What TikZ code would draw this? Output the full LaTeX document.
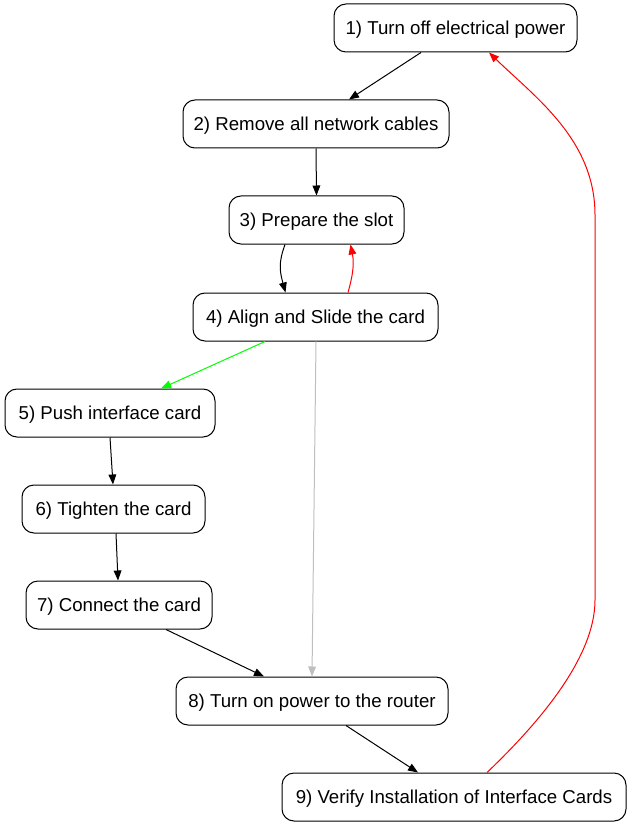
\documentclass[tikz,border=0pt]{standalone}
\usepackage{fontspec}
\setmainfont{Liberation Sans}
\usetikzlibrary{arrows.meta,calc}
\begin{document}
\begin{tikzpicture}[x=0.75pt,y=-0.75pt,
  box/.style={draw,line width=0.75pt,rounded corners=9pt,inner sep=0pt,font=\fontsize{14pt}{16pt}\selectfont,minimum height=36pt,text depth=0pt,text height=10pt},
  edge/.style={line width=0.75pt,-{Triangle[length=7.5pt,width=5.8pt]}}]
\useasboundingbox (0,0) rectangle (631,827);
\node[box,minimum width=243*0.75pt] (n1) at (455.5,28) {1) Turn off electrical power};
\node[box,minimum width=266*0.75pt] (n2) at (316,124) {2) Remove all network cables};
\node[box,minimum width=175*0.75pt] (n3) at (316.5,220) {3) Prepare the slot};
\node[box,minimum width=245*0.75pt] (n4) at (315.5,317) {4) Align and Slide the card};
\node[box,minimum width=210*0.75pt] (n5) at (110,413) {5) Push interface card};
\node[box,minimum width=183*0.75pt] (n6) at (113.5,509) {6) Tighten the card};
\node[box,minimum width=186*0.75pt] (n7) at (119,605) {7) Connect the card};
\node[box,minimum width=272*0.75pt] (n8) at (312,701) {8) Turn on power to the router};
\node[box,minimum width=344*0.75pt] (n9) at (454,797) {9) Verify Installation of Interface Cards};
\draw[edge] ($(n1.south)+(-34.5,0)$) -- ($(n2.north)+(33,0)$);
\draw[edge] (n2.south) -- (n3.north);
\draw[edge] ($(n3.south)+(-31.5,0)$) .. controls ($(n3.south)+(-38,18)$) and ($(n4.north)+(-36,-22)$) .. ($(n4.north)+(-30,0)$);
\draw[edge,red] ($(n4.north)+(32.5,0)$) .. controls ($(n4.north)+(37,-16)$) and ($(n3.south)+(38,20)$) .. ($(n3.south)+(34,0)$);
\draw[edge,green] ($(n4.south)+(-50.5,0)$) -- ($(n5.north)+(51,0)$);
\draw[edge,black!25] ($(n4.south)+(0.5,0)$) -- (n8.north);
\draw[edge] (n5.south) -- ($(n6.north)+(-0.5,0)$);
\draw[edge] ($(n6.south)+(2.5,0)$) -- ($(n7.north)+(-1,0)$);
\draw[edge] ($(n7.south)+(47,0)$) -- ($(n8.north)+(-48,0)$);
\draw[edge] ($(n8.south)+(34,0)$) -- ($(n9.north)+(-36,0)$);
\draw[edge,red] ($(n9.north)+(33,0)$) .. controls ($(n9.north)+(80,-45)$) and (595,660) .. (595,600) -- (595,215) .. controls (595,140) and ($(n1.south)+(80,45)$) .. ($(n1.south)+(33.5,0)$);
\end{tikzpicture}
\end{document}
